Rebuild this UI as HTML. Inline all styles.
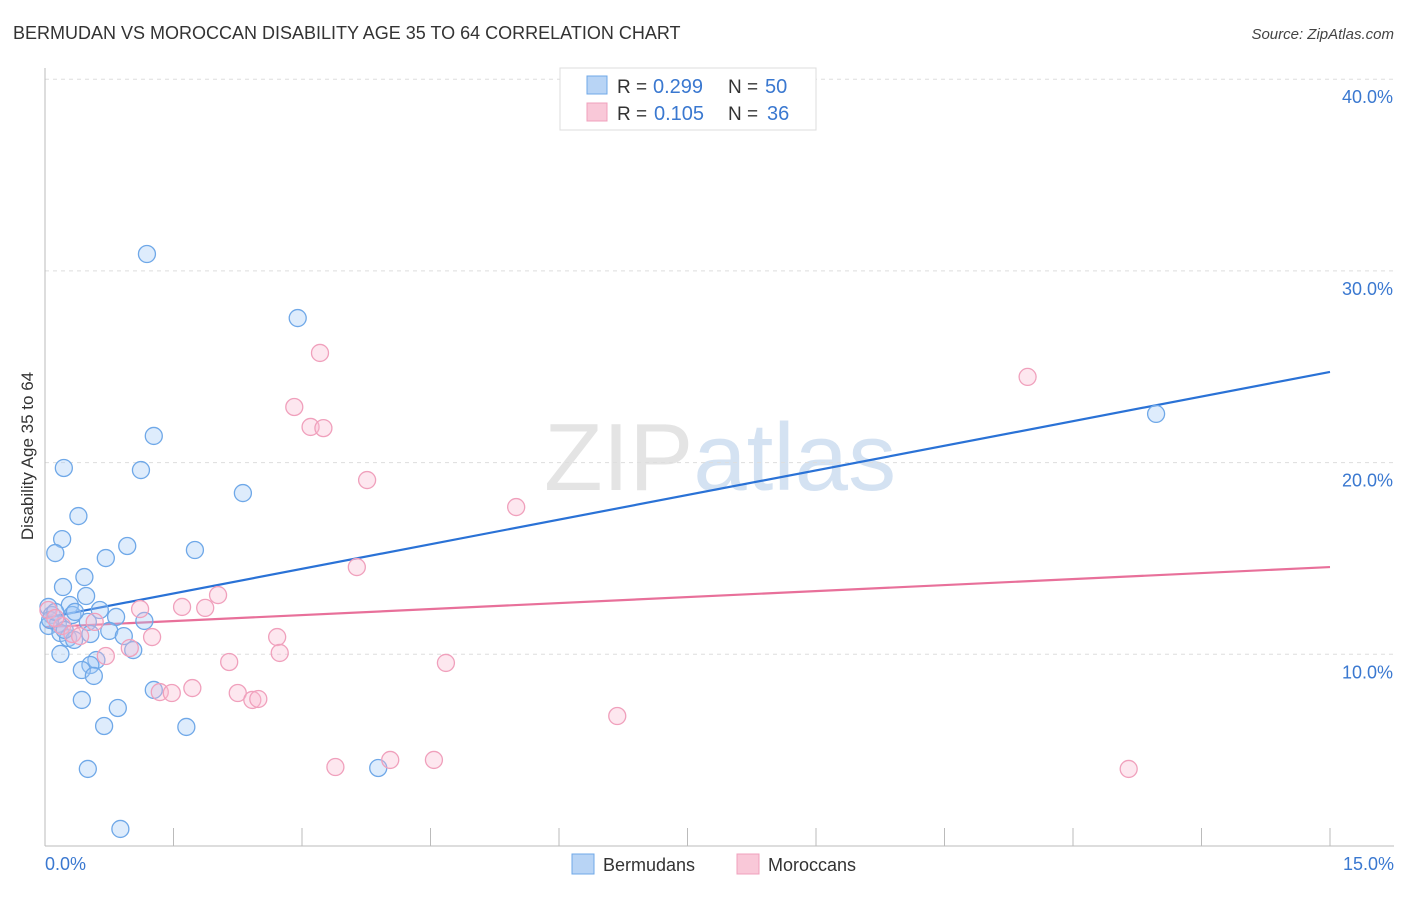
<!DOCTYPE html>
<html><head><meta charset="utf-8">
<style>
body{margin:0;background:#fff;font-family:"Liberation Sans",sans-serif;}
svg text{font-family:"Liberation Sans",sans-serif;}
</style></head>
<body>
<svg id="chart" width="1406" height="892" xmlns="http://www.w3.org/2000/svg">
<text x="13" y="39" font-size="18" fill="#333">BERMUDAN VS MOROCCAN DISABILITY AGE 35 TO 64 CORRELATION CHART</text>
<text x="1394" y="39" font-size="15" fill="#444" text-anchor="end" font-style="italic">Source: ZipAtlas.com</text>
<text x="720" y="490" font-size="96" fill="#e4e4e4" text-anchor="middle" font-family="Liberation Serif">ZIP<tspan fill="#d4e2f2" font-family="Liberation Sans">atlas</tspan></text>
<text transform="translate(33,456) rotate(-90)" font-size="17" fill="#333" text-anchor="middle">Disability Age 35 to 64</text>
<g id="grid"></g>
<g id="axes"></g>
<g id="lines"></g>
<g id="points"></g>
<g>
<rect x="560" y="68" width="256" height="62" fill="#fff" stroke="#ddd"/>
<rect x="587" y="76" width="20" height="18" fill="#b8d4f5" stroke="#6fa8e8"/>
<rect x="587" y="103" width="20" height="18" fill="#f9c8d8" stroke="#f0a0bc"/>
<text x="617" y="93" font-size="19" fill="#333">R =</text>
<text x="653" y="93" font-size="20" fill="#3a78d0">0.299</text>
<text x="728" y="93" font-size="19" fill="#333">N =</text>
<text x="765" y="93" font-size="20" fill="#3a78d0">50</text>
<text x="617" y="120" font-size="19" fill="#333">R =</text>
<text x="654" y="120" font-size="20" fill="#3a78d0">0.105</text>
<text x="728" y="120" font-size="19" fill="#333">N =</text>
<text x="767" y="120" font-size="20" fill="#3a78d0">36</text>
</g>
<g>
<rect x="572" y="854" width="22" height="20" fill="#b8d4f5" stroke="#6fa8e8"/>
<text x="603" y="871" font-size="18" fill="#333">Bermudans</text>
<rect x="737" y="854" width="22" height="20" fill="#f9c8d8" stroke="#f0a0bc"/>
<text x="768" y="871" font-size="18" fill="#333">Moroccans</text>
</g>
</svg>
<script>
const yTicks=[10,20,30,40];
const yTickLabels=["10.0%","20.0%","30.0%","40.0%"];
const xTickLabels=["0.0%","15.0%"];
const bermX=[1.19,2.95,1.27,1.12,0.22,2.31,0.39,0.20,0.96,0.12,1.75,0.71,0.46,0.21,0.48,0.29,0.04,0.08,0.32,0.83,1.16,0.50,0.15,0.04,0.75,0.18,0.53,0.92,0.27,0.34,1.03,0.18,0.60,0.53,0.43,0.57,1.27,0.43,0.85,0.69,1.65,0.50,3.89,0.88,12.97,0.06,0.23,0.35,0.12,0.64];
const bermY=[30.88,27.54,21.39,19.61,19.72,18.41,17.21,16.01,15.65,15.28,15.44,15.02,14.03,13.51,13.04,12.57,12.47,12.05,12.05,11.95,11.74,11.69,11.58,11.48,11.22,11.11,11.06,10.95,10.85,10.75,10.22,10.02,9.70,9.44,9.18,8.87,8.14,7.62,7.20,6.26,6.21,4.02,4.07,0.89,22.54,11.79,11.27,12.21,12.21,12.31];
const morX=[3.21,2.91,3.10,3.25,3.76,5.50,11.47,3.64,2.02,1.11,1.60,1.87,0.04,0.58,0.20,1.25,2.71,0.32,0.99,0.71,2.74,2.15,4.68,1.72,1.34,1.48,2.25,2.42,2.49,6.68,4.03,4.54,3.39,12.65,0.12,0.41];
const morY=[25.72,22.90,21.86,21.80,19.09,17.68,24.47,14.55,13.09,12.36,12.47,12.42,12.31,11.69,11.48,10.90,10.90,11.06,10.33,9.91,10.07,9.60,9.55,8.24,8.03,7.98,7.98,7.62,7.67,6.78,4.49,4.49,4.12,4.02,11.89,10.95];
const bermTrend=[11.89,24.73];
const morTrend=[11.42,14.55];
const NS="http://www.w3.org/2000/svg";
const X=v=>45+v*(1285/15);
const Y=v=>846-v*19.17;
function mk(tag,attrs,parent){const e=document.createElementNS(NS,tag);for(const k in attrs)e.setAttribute(k,attrs[k]);document.getElementById(parent).appendChild(e);return e;}
yTicks.forEach((t,i)=>{
  const g=mk('line',{x1:45,x2:1394,y1:Y(t),y2:Y(t),stroke:'#ddd','stroke-dasharray':'4,4'},'grid');
  
  
  const l=mk('text',{x:1393,y:Y(t)+24,'font-size':18,fill:'#3a78d0','text-anchor':'end'},'axes');
  l.textContent=yTickLabels[i];
  
  
});
const ax=mk('line',{x1:45,x2:1394,y1:846,y2:846,stroke:'#bbb'},'axes');


const ay=mk('line',{x1:45,x2:45,y1:68,y2:846,stroke:'#bbb'},'axes');


for(let i=0;i<=10;i++){
  const t=mk('line',{x1:X(i*1.5),x2:X(i*1.5),y1:828,y2:846,stroke:'#bbb'},'axes');
  
  
}
const xl0=mk('text',{x:45,y:870,'font-size':18,fill:'#3a78d0'},'axes');xl0.textContent=xTickLabels[0];


const xl1=mk('text',{x:1394,y:870,'font-size':18,fill:'#3a78d0','text-anchor':'end'},'axes');xl1.textContent=xTickLabels[1];


function pts(xs,ys,fill,stroke,name){xs.forEach((x,i)=>{
  const c=mk('circle',{cx:X(x),cy:Y(ys[i]),r:8.5,fill:fill,stroke:stroke,'stroke-width':1.3},'points');
  
  
});}
pts(bermX,bermY,'rgba(160,200,245,0.35)','#6fa8e8','bermudan-point');
pts(morX,morY,'rgba(248,185,208,0.35)','#f0a0bc','moroccan-point');
const bl=mk('line',{x1:X(0),y1:Y(bermTrend[0]),x2:X(15),y2:Y(bermTrend[1]),stroke:'#2a72d6','stroke-width':2.2},'lines');


const ml=mk('line',{x1:X(0),y1:Y(morTrend[0]),x2:X(15),y2:Y(morTrend[1]),stroke:'#e8709a','stroke-width':2.2},'lines');


</script>
</body></html>
